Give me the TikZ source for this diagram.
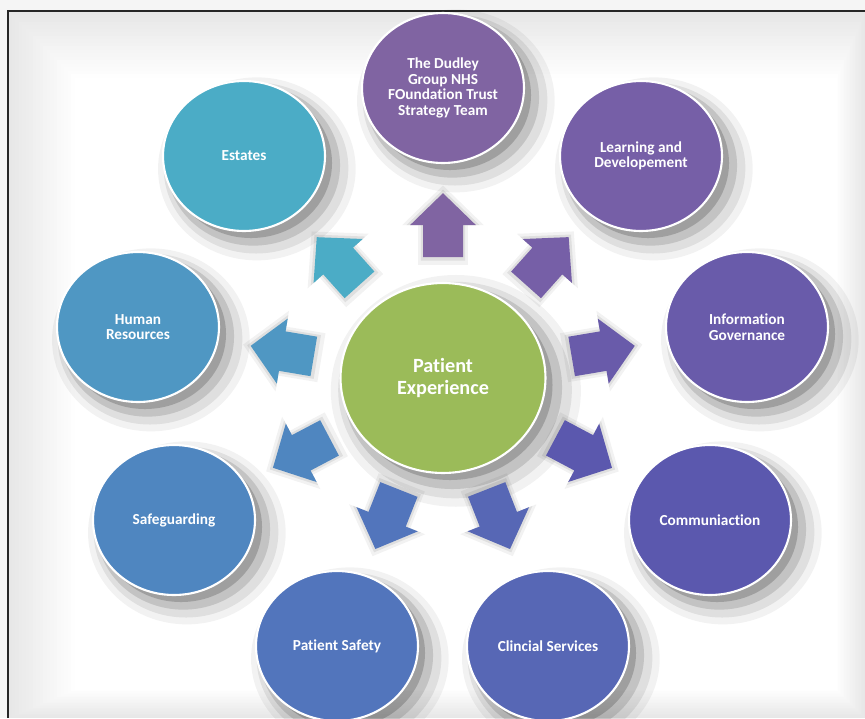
\documentclass[tikz,border=0pt]{standalone}
\usepackage{fontspec}
\setmainfont{Carlito}[Ligatures=NoCommon]
\usetikzlibrary{shapes.geometric,shadows}

\definecolor{trustcol}{HTML}{8064A2}
\definecolor{learncol}{HTML}{765FA7}
\definecolor{infocol}{HTML}{695BAA}
\definecolor{commscol}{HTML}{5B58AE}
\definecolor{clincol}{HTML}{5767B5}
\definecolor{safetycol}{HTML}{5275BC}
\definecolor{guardcol}{HTML}{4F86C0}
\definecolor{hrcol}{HTML}{4F97C3}
\definecolor{estatecol}{HTML}{4BACC6}
\definecolor{hubcol}{HTML}{9BBB59}

\tikzset{
  softshadow/.style={
    drop shadow={shadow xshift=4pt, shadow yshift=-4pt, shadow scale=1.00, opacity=.18, fill=black},
    drop shadow={shadow xshift=5pt, shadow yshift=-5pt, shadow scale=1.07, opacity=.12, fill=black},
    drop shadow={shadow xshift=6pt, shadow yshift=-6pt, shadow scale=1.14, opacity=.08, fill=black},
    drop shadow={shadow xshift=6pt, shadow yshift=-6pt, shadow scale=1.22, opacity=.05, fill=black}},
  unit/.style={shape=ellipse, draw=white, line width=1.2pt, minimum width=3.24cm,
    minimum height=3cm, inner sep=0pt, text=white, align=center,
    font=\bfseries\fontsize{8.7}{8.9}\selectfont, softshadow},
  hubnode/.style={unit, minimum width=4.1cm, minimum height=3.8cm, fill=hubcol,
    font=\bfseries\fontsize{11.5}{12}\selectfont},
  pics/flowarrow/.style={code={
    \fill[black, opacity=.05, scale=1.24] (-32,-20) -- (0,-20) -- (0,-33) -- (32,0) -- (0,33) -- (0,20) -- (-32,20) -- cycle;
    \fill[black, opacity=.08, scale=1.11] (-32,-20) -- (0,-20) -- (0,-33) -- (32,0) -- (0,33) -- (0,20) -- (-32,20) -- cycle;
    \fill[#1] (-32,-20) -- (0,-20) -- (0,-33) -- (32,0) -- (0,33) -- (0,20) -- (-32,20) -- cycle;
  }}
}

\begin{document}
\begin{tikzpicture}[x=0.02cm, y=-0.02cm]
\useasboundingbox (0,0) rectangle (865,718);
% page and frame
\fill[black!4] (0,0) rectangle (865,718);
\foreach \i in {0,...,19} {
  \pgfmathsetmacro\g{(19-\i)*0.5}
  \fill[black!\g] (8+3.5*\i, 11+3.5*\i) rectangle (865-1.5*\i, 718-1.5*\i);
}
\draw[black!85, line width=0.9pt] (8,718) -- (8,11) -- (865,11);

% outer circles
\node[unit, fill=trustcol] (trust) at (443,88) {The Dudley\\Group NHS\\FOundation Trust\\Strategy Team};
\node[unit, fill=learncol] (learning) at (641,156) {Learning and\\Developement};
\node[unit, fill=infocol] (infogov) at (747,327) {Information\\Governance};
\node[unit, fill=commscol] (comms) at (710,520) {Communiaction};
\node[unit, fill=clincol] (clinical) at (548,646) {Clincial Services};
\node[unit, fill=safetycol] (safety) at (337,646) {Patient Safety};
\node[unit, fill=guardcol] (safeguard) at (174,520) {Safeguarding};
\node[unit, fill=hrcol] (hr) at (138,327) {Human\\Resources};
\node[unit, fill=estatecol] (estates) at (244,156) {Estates};

% centre
\node[hubnode] (hub) at (443,378) {Patient\\Experience};

% arrows out of the centre
\foreach \n/\c in {trust/trustcol, learning/learncol, infogov/infocol, comms/commscol,
    clinical/clincol, safety/safetycol, safeguard/guardcol, hr/hrcol, estates/estatecol}
  \path (hub.center) -- pic[pos=0.527, sloped, allow upside down] {flowarrow=\c} (\n.center);
\end{tikzpicture}
\end{document}
